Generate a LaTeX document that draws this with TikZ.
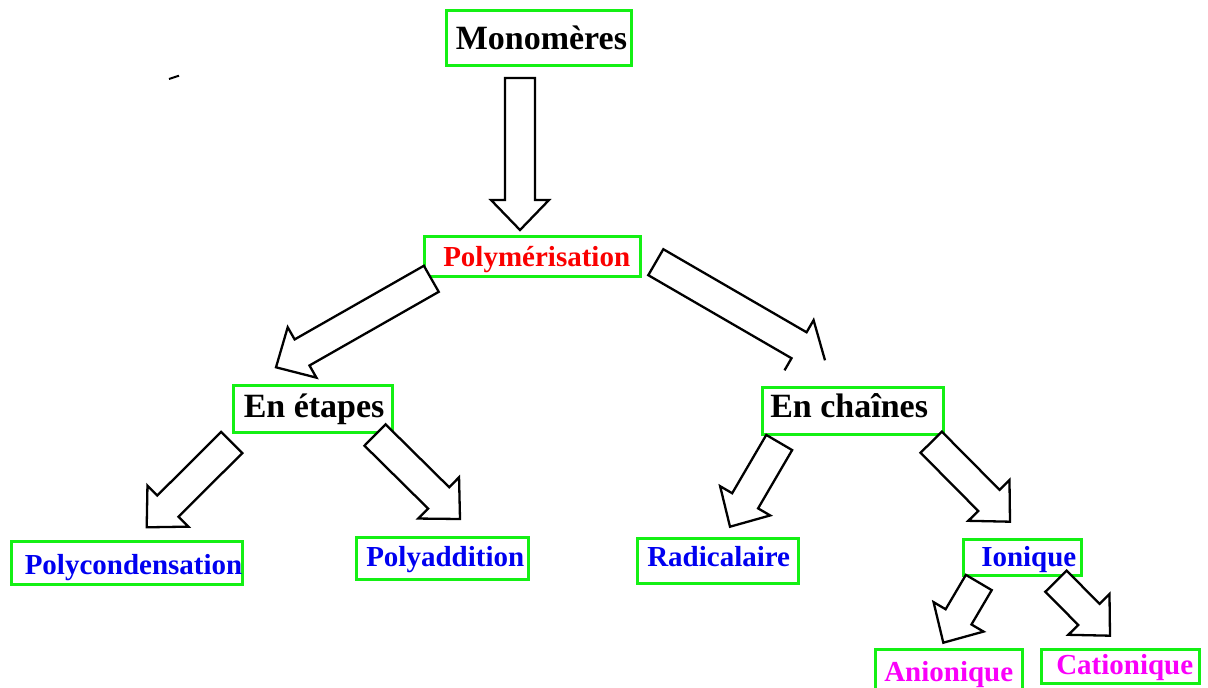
\documentclass[tikz,border=0pt]{standalone}
\usepackage{fontspec}
\setmainfont{Liberation Serif}
\usetikzlibrary{calc}
\definecolor{boxgreen}{RGB}{20,240,20}
\definecolor{txtblue}{RGB}{0,0,240}
\definecolor{txtred}{RGB}{250,0,0}
\definecolor{txtmag}{RGB}{250,0,250}
\tikzset{
  bigbox/.style={draw=boxgreen, line width=2.5pt, inner sep=0pt, anchor=north west,
    font=\fontsize{34}{37}\selectfont\bfseries},
  smallbox/.style={bigbox, font=\fontsize{29}{32}\selectfont\bfseries},
  blockarr/.style={draw=black, fill=white, line width=2.3pt, line join=miter},
}
\newcommand{\boxtext}[3]{\makebox[#1pt][l]{\hspace*{#2pt}#3}}
% block arrow: #1 closing part, #2 tail centre, #3 tip
\newcommand{\blockarrow}[3][-- cycle]{%
  \coordinate (ta) at (#2);
  \coordinate (tp) at (#3);
  \coordinate (nk) at ($(tp)!30pt!(ta)$);
  \draw[blockarr] ($(nk)!29pt!-90:(tp)$) -- ($(nk)!15pt!-90:(tp)$)
    -- ($(ta)!15pt!-90:(tp)$) -- ($(ta)!15pt!90:(tp)$)
    -- ($(nk)!15pt!90:(tp)$) -- ($(nk)!29pt!90:(tp)$) -- (tp) #1;
}
\begin{document}
\begin{tikzpicture}[x=1pt, y=-1pt]
\useasboundingbox (0,0) rectangle (1208,688);

% boxes
\node[bigbox, text height=39pt, text depth=16pt] (mono) at (445,9)
  {\boxtext{185}{9.5}{Monomères}};
\node[smallbox, text=txtred, text height=30pt, text depth=10pt] (poly) at (423,235)
  {\boxtext{216}{19}{Polymérisation}};
\node[bigbox, text height=32pt, text depth=15pt] (etap) at (232,384)
  {\boxtext{159}{10.5}{En étapes}};
\node[bigbox, text height=30pt, text depth=17pt] (chai) at (761,386)
  {\boxtext{181}{8}{En chaînes}};
\node[smallbox, text=txtblue, text height=33pt, text depth=10pt] (pcond) at (10,540)
  {\boxtext{231}{13.5}{Polycondensation}};
\node[smallbox, text=txtblue, text height=29pt, text depth=13pt] (padd) at (355,536)
  {\boxtext{172}{10}{Polyaddition}};
\node[smallbox, text=txtblue, text height=28pt, text depth=17pt] (radi) at (636,537)
  {\boxtext{161}{10}{Radicalaire}};
\node[smallbox, text=txtblue, text height=27pt, text depth=9pt] (ioni) at (962,538)
  {\boxtext{118}{18}{Ionique}};
\node[smallbox, text=txtmag, text height=32pt, text depth=12pt] (anio) at (874,648)
  {\boxtext{147}{9}{Anionique}};
\node[smallbox, text=txtmag, text height=25pt, text depth=9pt] (cati) at (1040,648)
  {\boxtext{158}{15}{Cationique}};

% arrow end points
\coordinate (a1t) at (520,78);      \coordinate (a1h) at (520,230);
\coordinate (a2t) at (431.3,278.8); \coordinate (a2h) at (276,367.3);
\coordinate (a3t) at (655.8,262.2); \coordinate (a3h) at (825,360.3);
\coordinate (a4t) at (231.7,442.5); \coordinate (a4h) at (146.7,527.3);
\coordinate (a5t) at (375,435);     \coordinate (a5h) at (460,519);
\coordinate (a6t) at (779.2,442.5); \coordinate (a6h) at (730,526.7);
\coordinate (a7t) at (931.2,442.2); \coordinate (a7h) at (1010,521.7);
\coordinate (a8t) at (978.8,582.5); \coordinate (a8h) at (943.3,642.7);
\coordinate (a9t) at (1056,581.2);  \coordinate (a9h) at (1110,635.7);

\blockarrow{a1t}{a1h}
\blockarrow{a2t}{a2h}
\blockarrow[]{a3t}{a3h}
\blockarrow{a4t}{a4h}
\blockarrow{a5t}{a5h}
\blockarrow{a6t}{a6h}
\blockarrow{a7t}{a7h}
\blockarrow{a8t}{a8h}
\blockarrow{a9t}{a9h}

% stray dash
\coordinate (s1) at (169,79); \coordinate (s2) at (179,75.7);
\draw[line width=2pt] (s1) -- (s2);
\end{tikzpicture}
\end{document}
